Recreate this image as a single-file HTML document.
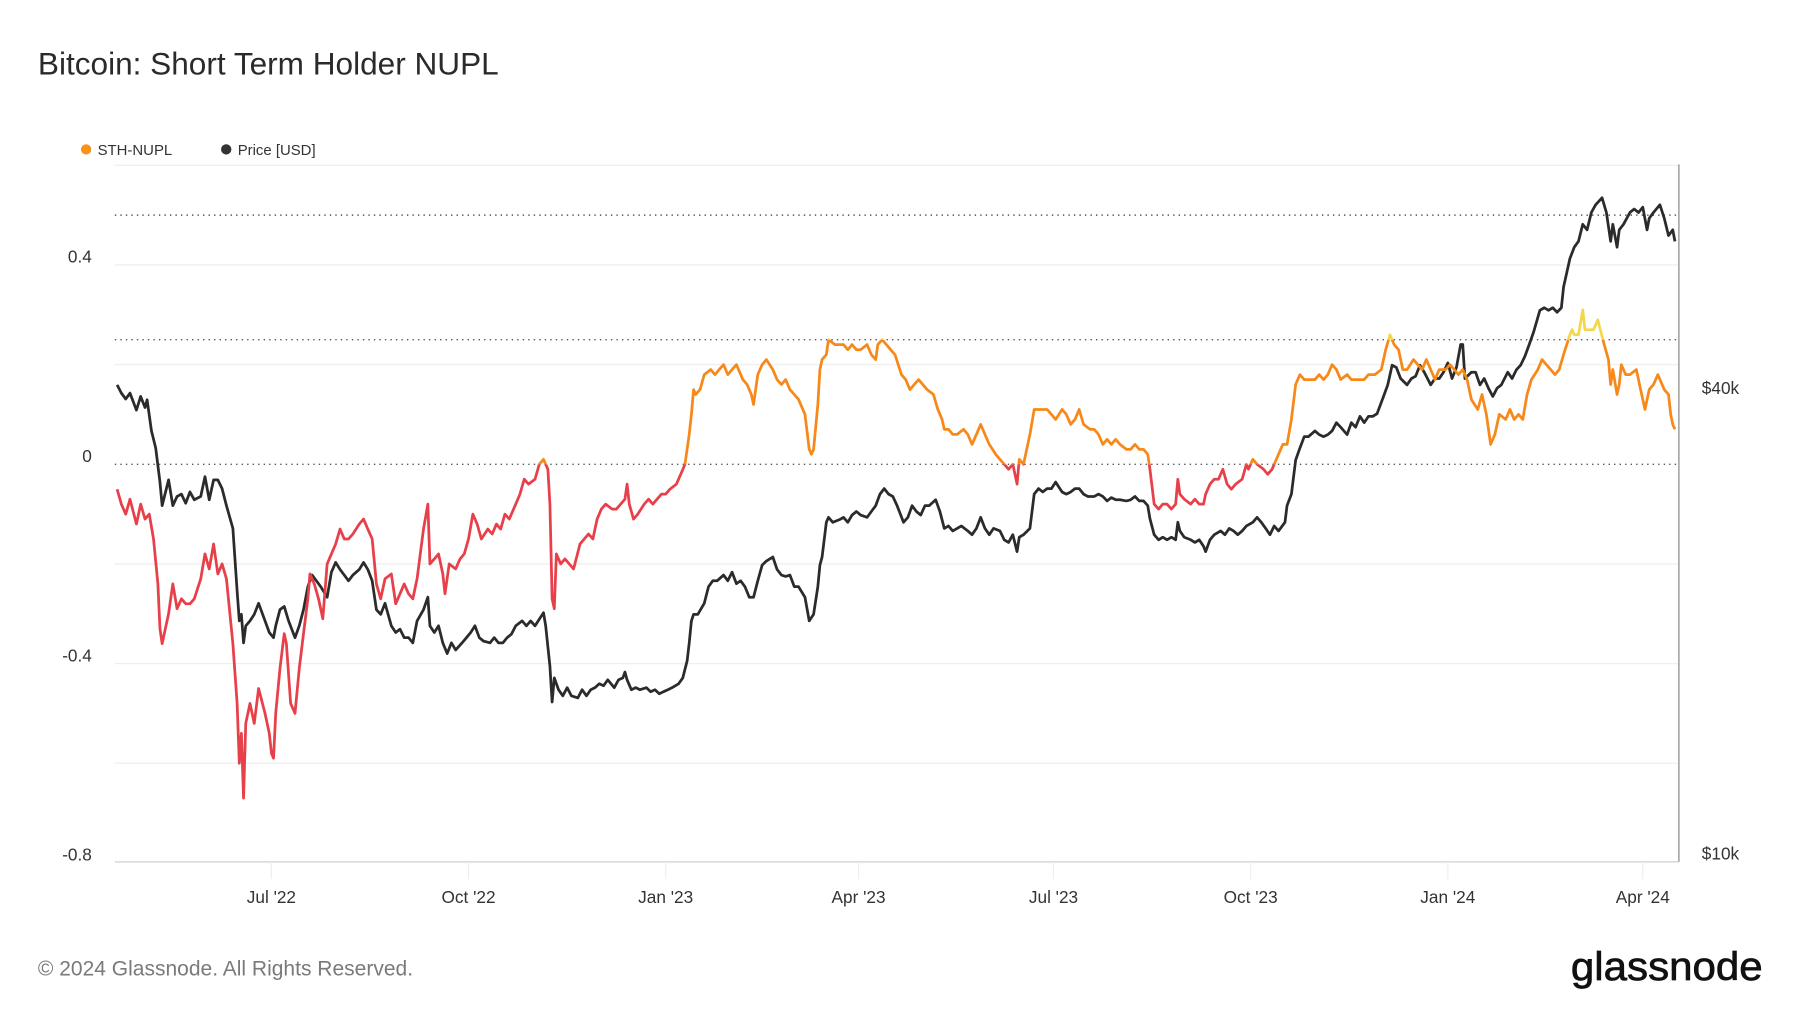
<!DOCTYPE html>
<html><head><meta charset="utf-8"><style>
html,body{margin:0;padding:0;background:#fff;width:1800px;height:1013px;overflow:hidden}
svg{display:block;font-family:"Liberation Sans",sans-serif}
</style></head><body>
<svg id="chart" width="1800" height="1013" viewBox="0 0 1567.5 881.5" preserveAspectRatio="none" xmlns="http://www.w3.org/2000/svg">
<text x="33" y="65" font-size="27.5" fill="#2a2a2a">Bitcoin: Short Term Holder NUPL</text>
<g>
<g><circle cx="75" cy="130" r="4.5" fill="#f7931a"/><text x="85" y="135" font-size="13" fill="#333">STH-NUPL</text></g>
<g><circle cx="197" cy="130" r="4.5" fill="#333"/><text x="207" y="135" font-size="13" fill="#333">Price [USD]</text></g>
</g>
<g id="grid"></g>
<g id="axes"></g>
<g id="series"></g>
<text x="33" y="849" font-size="18.3" fill="#7a7a7a">© 2024 Glassnode. All Rights Reserved.</text>
<text x="1368" y="853" textLength="167" lengthAdjust="spacingAndGlyphs" font-size="35" fill="#111" stroke="#111" stroke-width="0.6">glassnode</text>
</svg>
<script>
const nuplTicks=[0.4,0,-0.4,-0.8];
const nuplTickLabels=["0.4","0","-0.4","-0.8"];
const nuplGrid=[0.6,0.4,0.2,-0.2,-0.4,-0.6];
const nuplThresholds=[0,0.25,0.5];
const priceTicks=[40000,10000];
const priceTickLabels=["$40k","$10k"];
const xTickDays=[72,164,256,346,437,529,621,712];
const xTickLabels=["Jul '22","Oct '22","Jan '23","Apr '23","Jul '23","Oct '23","Jan '24","Apr '24"];
// days since 2022-04-20
const nuplDays=[0,2,4,6,9,11,13,15,17,19,20,21,24,26,28,30,32,34,36,39,41,43,45,47,49,51,54,56,57,58,59,60,62,64,66,69,71,72,73,74,76,78,79,81,83,85,87,89,90,92,94,96,98,100,102,104,106,108,110,113,115,117,119,121,123,125,128,130,132,134,136,138,140,143,145,146,148,150,152,153,155,158,160,162,164,166,168,170,173,175,177,179,181,183,186,188,190,192,195,197,199,201,202,203,204,205,207,209,211,213,216,218,220,222,224,226,228,231,233,235,237,238,239,241,243,246,248,250,252,254,256,258,261,263,265,267,268,269,270,272,274,277,279,281,283,285,287,289,292,294,296,297,299,301,303,306,308,310,312,314,316,318,321,323,324,325,327,328,329,331,332,335,337,339,341,343,345,347,350,352,354,355,357,359,361,363,366,368,370,372,374,376,378,381,383,385,386,388,390,392,395,397,399,401,403,405,407,410,412,414,416,418,420,421,423,426,428,430,432,434,436,438,441,443,445,447,449,451,454,456,458,460,462,464,466,468,471,473,475,477,479,481,482,484,486,488,490,492,494,495,496,498,501,503,505,507,508,510,512,514,516,518,520,522,525,527,528,530,532,535,537,539,541,544,546,548,550,552,554,557,559,561,563,565,567,569,571,574,576,578,580,582,584,587,590,592,594,596,598,600,602,605,607,609,611,613,615,617,620,622,624,626,628,630,632,635,637,639,641,643,645,648,650,652,654,656,658,660,663,665,667,669,671,673,675,678,679,680,682,684,685,687,689,691,694,696,697,698,700,701,702,704,706,709,711,713,715,717,719,722,724,725,726,727];
const nuplValues=[-0.05,-0.08,-0.10,-0.07,-0.12,-0.08,-0.11,-0.10,-0.15,-0.24,-0.33,-0.36,-0.30,-0.24,-0.29,-0.27,-0.28,-0.28,-0.27,-0.23,-0.18,-0.21,-0.16,-0.22,-0.20,-0.23,-0.36,-0.48,-0.60,-0.54,-0.67,-0.52,-0.48,-0.52,-0.45,-0.50,-0.54,-0.58,-0.59,-0.50,-0.41,-0.34,-0.36,-0.48,-0.50,-0.41,-0.34,-0.27,-0.22,-0.24,-0.27,-0.31,-0.20,-0.18,-0.16,-0.13,-0.15,-0.15,-0.14,-0.12,-0.11,-0.13,-0.15,-0.24,-0.27,-0.23,-0.22,-0.28,-0.26,-0.24,-0.26,-0.27,-0.23,-0.13,-0.08,-0.20,-0.19,-0.18,-0.22,-0.26,-0.20,-0.21,-0.19,-0.18,-0.15,-0.10,-0.12,-0.15,-0.13,-0.14,-0.12,-0.13,-0.10,-0.11,-0.08,-0.06,-0.03,-0.04,-0.03,0.00,0.01,-0.01,-0.08,-0.27,-0.29,-0.18,-0.20,-0.19,-0.20,-0.21,-0.16,-0.15,-0.14,-0.15,-0.11,-0.09,-0.08,-0.09,-0.09,-0.08,-0.07,-0.04,-0.08,-0.11,-0.10,-0.08,-0.07,-0.08,-0.07,-0.06,-0.06,-0.05,-0.04,-0.02,0.00,0.06,0.10,0.15,0.14,0.15,0.18,0.19,0.18,0.19,0.20,0.18,0.19,0.20,0.17,0.16,0.14,0.12,0.18,0.20,0.21,0.19,0.17,0.16,0.17,0.15,0.14,0.13,0.10,0.03,0.02,0.03,0.12,0.19,0.21,0.22,0.25,0.24,0.24,0.24,0.23,0.24,0.23,0.23,0.24,0.22,0.21,0.24,0.25,0.24,0.23,0.22,0.18,0.17,0.15,0.16,0.17,0.16,0.15,0.14,0.11,0.09,0.07,0.07,0.06,0.06,0.07,0.06,0.04,0.06,0.08,0.06,0.04,0.02,0.01,0.00,-0.01,0.00,-0.04,0.01,0.00,0.06,0.11,0.11,0.11,0.11,0.10,0.09,0.11,0.10,0.08,0.09,0.11,0.08,0.07,0.07,0.06,0.04,0.05,0.04,0.05,0.04,0.03,0.03,0.04,0.03,0.03,0.02,-0.01,-0.08,-0.09,-0.08,-0.08,-0.09,-0.08,-0.03,-0.06,-0.07,-0.08,-0.07,-0.08,-0.08,-0.06,-0.04,-0.03,-0.03,-0.01,-0.04,-0.05,-0.04,-0.03,0.00,-0.01,0.01,0.00,-0.01,-0.02,-0.01,0.01,0.04,0.04,0.09,0.16,0.18,0.17,0.17,0.17,0.18,0.17,0.18,0.20,0.19,0.17,0.18,0.17,0.17,0.17,0.17,0.18,0.18,0.19,0.23,0.26,0.24,0.23,0.19,0.19,0.21,0.20,0.19,0.21,0.19,0.17,0.19,0.19,0.20,0.19,0.18,0.19,0.17,0.13,0.11,0.14,0.10,0.04,0.06,0.10,0.09,0.11,0.09,0.10,0.09,0.14,0.17,0.19,0.21,0.20,0.19,0.18,0.19,0.22,0.26,0.27,0.26,0.26,0.31,0.27,0.27,0.27,0.29,0.24,0.21,0.16,0.19,0.14,0.16,0.20,0.18,0.18,0.19,0.15,0.11,0.15,0.16,0.18,0.15,0.14,0.10,0.08,0.07];
const priceDays=[0,2,4,6,9,11,13,14,16,18,20,21,24,26,28,30,32,34,36,39,41,43,45,47,49,51,54,56,57,58,59,60,62,64,66,69,71,73,74,76,78,80,83,85,87,89,91,93,95,98,100,102,104,106,108,110,113,115,117,119,121,123,125,128,130,132,134,136,138,140,143,145,146,148,150,152,154,156,158,161,163,165,167,169,171,174,176,178,180,182,184,186,189,191,193,195,197,199,200,202,203,204,206,208,210,212,215,217,219,221,223,225,227,229,232,234,236,237,238,240,242,244,247,249,251,253,255,257,259,262,264,266,267,268,269,271,274,276,278,280,283,285,287,289,291,293,295,297,299,301,303,306,308,310,312,314,316,318,321,323,325,327,328,329,331,332,334,337,339,341,343,345,347,350,352,354,356,358,360,362,364,367,369,371,373,375,377,379,382,384,386,388,390,392,394,397,399,401,403,405,407,409,412,414,416,418,420,421,423,426,428,430,432,434,436,438,441,443,445,447,449,451,453,456,458,460,462,464,466,468,471,473,475,477,479,481,482,484,486,488,490,492,494,495,496,498,501,503,505,507,508,510,512,515,517,519,521,523,525,527,530,532,534,536,538,540,542,545,546,548,550,552,554,556,559,561,563,565,567,569,571,574,576,578,580,582,584,586,588,591,593,595,597,599,602,604,606,608,610,613,615,617,619,621,623,625,627,628,629,632,634,636,638,640,642,644,646,649,651,653,655,657,659,661,664,666,668,670,672,674,675,678,680,682,684,686,688,690,693,695,697,698,700,701,703,706,708,710,712,714,715,717,720,722,724,726,727];
const priceValues=[41.4,40.4,39.7,40.4,38.4,40.0,38.7,39.6,36.1,34.3,31.0,28.9,31.2,28.9,29.7,29.9,29.1,30.1,29.4,29.7,31.5,29.4,31.2,31.2,30.4,28.9,27.0,22.4,20.5,20.9,19.2,20.2,20.5,20.9,21.6,20.5,19.8,19.5,20.2,21.2,21.4,20.5,19.5,20.2,21.2,22.7,23.5,23.1,22.7,22.0,23.7,24.4,23.9,23.5,23.1,23.5,23.9,24.4,23.9,23.1,21.2,20.9,21.6,20.2,19.8,20.0,19.5,19.5,19.2,20.5,21.2,22.0,20.2,19.8,20.2,19.2,18.6,19.2,18.8,19.2,19.5,19.8,20.2,19.5,19.3,19.2,19.5,19.2,19.2,19.5,19.7,20.2,20.5,20.2,20.5,20.2,20.6,21.0,20.2,17.9,16.1,17.3,16.7,16.4,16.8,16.4,16.3,16.7,16.4,16.7,16.8,17.0,16.9,17.2,16.8,17.2,17.3,17.6,17.2,16.7,16.8,16.7,16.8,16.6,16.7,16.5,16.6,16.7,16.8,17.0,17.3,18.2,19.2,20.5,20.9,20.9,21.6,22.7,23.1,23.1,23.5,23.1,23.7,22.9,23.1,22.7,22.0,22.0,23.1,24.2,24.5,24.8,23.9,23.5,23.4,23.5,22.7,22.7,22.0,20.5,20.9,22.7,24.2,24.8,27.5,27.9,27.5,27.7,27.9,27.5,28.1,28.4,28.1,27.9,28.4,28.9,29.9,30.4,29.9,29.7,28.9,27.5,27.9,28.9,28.4,28.1,28.9,28.9,29.4,28.4,27.0,27.2,26.8,27.0,27.2,26.8,26.5,27.0,27.9,27.0,26.5,27.0,26.8,26.1,25.9,26.5,25.2,26.3,26.5,27.0,29.9,30.4,30.1,30.4,30.4,31.0,30.1,29.9,30.1,30.4,30.4,29.9,29.7,29.7,29.9,29.7,29.3,29.6,29.4,29.4,29.3,29.4,29.7,29.3,29.3,28.9,27.8,26.5,26.1,26.3,26.1,26.3,26.1,27.5,26.8,26.3,26.1,25.9,26.1,25.6,25.2,26.1,26.5,26.8,26.5,27.0,26.8,26.5,26.8,27.2,27.5,27.9,27.5,27.0,26.5,27.2,26.8,27.5,28.9,29.9,33.1,34.3,35.5,35.5,36.1,35.7,35.5,35.7,36.1,37.0,36.5,35.7,37.0,36.5,37.7,37.0,37.7,37.7,38.0,40.0,41.4,43.9,43.6,42.2,41.4,42.2,42.5,43.9,43.0,41.4,42.2,42.2,43.0,44.2,42.2,43.6,46.7,46.7,42.2,43.0,43.0,41.4,42.2,41.0,40.0,41.0,41.4,43.0,42.2,43.3,43.9,45.1,46.7,48.4,51.7,52.1,51.7,52.1,51.4,52.1,55.4,60.3,62.4,63.5,66.8,65.7,69.2,70.8,72.3,69.2,63.5,66.8,62.4,65.7,66.8,69.2,69.9,69.2,70.3,65.7,68.0,69.2,70.8,68.0,64.6,65.7,63.5];

const NS="http://www.w3.org/2000/svg";
const L=100,R=1462,T=143,B=750;
function xScale(d){return 102+d*1.866;}
function yN(v){return 404-v*433.6;}
function yP(kusd){return 750-672.7*Math.log10(kusd*1000/10000);}
function mk(tag,attrs,parent){const e=document.createElementNS(NS,tag);for(const k in attrs)e.setAttribute(k,attrs[k]);parent.appendChild(e);return e;}
const grid=document.getElementById('grid'),axes=document.getElementById('axes'),series=document.getElementById('series'),svg=document.getElementById('chart');

nuplGrid.forEach(v=>{const l=mk('line',{x1:L,x2:R,y1:yN(v),y2:yN(v),stroke:'#efefef','stroke-width':1.2},grid);

});
nuplThresholds.forEach(v=>{const l=mk('line',{x1:L,x2:R,y1:yN(v),y2:yN(v),stroke:'#555','stroke-width':1.2,'stroke-dasharray':'1.2 3.6'},grid);

});
const bl=mk('line',{x1:L,x2:R,y1:B,y2:B,stroke:'#ddd','stroke-width':1.5},axes);


const rl=mk('line',{x1:R,x2:R,y1:T,y2:B,stroke:'#aaa','stroke-width':1.5},axes);



nuplTicks.forEach((v,i)=>{const t=mk('text',{x:80,y:yN(v)-2,'text-anchor':'end','font-size':15,fill:'#333'},axes);t.textContent=nuplTickLabels[i];

});
priceTicks.forEach((p,i)=>{const t=mk('text',{x:1482,y:yP(p/1000)-2,'font-size':15,fill:'#333'},axes);t.textContent=priceTickLabels[i];

});
xTickDays.forEach((d,i)=>{const x=xScale(d);
const tk=mk('line',{x1:x,x2:x,y1:B,y2:B+15,stroke:'#eee','stroke-width':1},axes);


const t=mk('text',{x:x,y:786,'text-anchor':'middle','font-size':15,fill:'#333'},axes);t.textContent=xTickLabels[i];

});

const defs=mk('defs',{},svg);
function clip(id,y1,y2){const c=mk('clipPath',{id:id},defs);mk('rect',{x:L,y:y1,width:R-L,height:y2-y1},c);}
clip('cRed',yN(0),B+20);clip('cOrange',yN(0.25),yN(0));clip('cYellow',0,yN(0.25));

let pp='';priceDays.forEach((d,i)=>{pp+=(i?'L':'M')+xScale(d).toFixed(1)+','+yP(priceValues[i]).toFixed(1);});
const pl=mk('path',{d:pp,fill:'none',stroke:'#2b2b2b','stroke-width':2.4,'stroke-linejoin':'round'},series);



let np='';nuplDays.forEach((d,i)=>{np+=(i?'L':'M')+xScale(d).toFixed(1)+','+yN(nuplValues[i]).toFixed(1);});
[['cRed','#e8404a','nupl-line-negative'],['cOrange','#f7891a','nupl-line-positive'],['cYellow','#f3d84e','nupl-line-high']].forEach(s=>{
const p=mk('path',{d:np,fill:'none',stroke:s[1],'stroke-width':2.4,'stroke-linejoin':'round','clip-path':'url(#'+s[0]+')'},series);

});
</script>
</body></html>
